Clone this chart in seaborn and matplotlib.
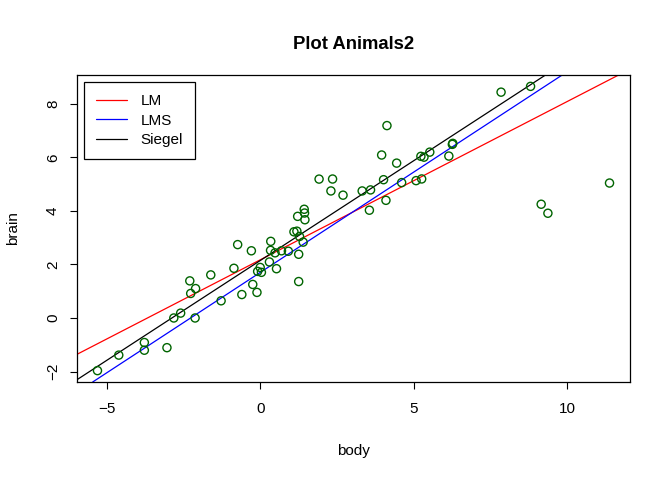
import numpy as np
import pandas as pd
import matplotlib
matplotlib.use("Agg")
import matplotlib.pyplot as plt
import seaborn as sns

# Animals2 (robustbase): body weight (kg) and brain weight (g), plotted on log scale
animals = ["Arctic fox", "Owl monkey", "Mountain beaver", "Cow", "Grey wolf", "Goat",
           "Roe deer", "Guinea pig", "Verbet", "Chinchilla", "Ground squirrel",
           "Arctic ground squirrel", "African giant pouched rat", "Lesser short-tailed shrew",
           "Star-nosed mole", "Nine-banded armadillo", "Tree hyrax", "N.A. opossum",
           "Asian elephant", "Big brown bat", "Donkey", "Horse", "European hedgehog",
           "Patas monkey", "Cat", "Galago", "Genet", "Giraffe", "Gorilla", "Grey seal",
           "Rock hyrax-a", "Human", "African elephant", "Water opossum", "Rhesus monkey",
           "Kangaroo", "Yellow-bellied marmot", "Golden hamster", "Mouse", "Little brown bat",
           "Slow loris", "Okapi", "Rabbit", "Sheep", "Jaguar", "Chimpanzee", "Baboon",
           "Desert hedgehog", "Giant armadillo", "Rock hyrax-b", "Raccoon", "Rat",
           "E. American mole", "Mole rat", "Musk shrew", "Pig", "Echidna", "Brazilian tapir",
           "Tenrec", "Phalanger", "Tree shrew", "Red fox", "Brachiosaurus", "Dipliodocus",
           "Triceratops"]
body = [3.385, 0.48, 1.35, 465, 36.33, 27.66, 14.83, 1.04, 4.19, 0.425, 0.101, 0.92, 1.0,
        0.005, 0.06, 3.5, 2.0, 1.7, 2547, 0.023, 187.1, 521, 0.785, 10, 3.3, 0.2, 1.41,
        529, 207, 85, 0.75, 62, 6654, 3.5, 6.8, 35, 4.05, 0.12, 0.023, 0.01, 1.4, 250,
        2.5, 55.5, 100, 52.16, 10.55, 0.55, 60, 3.6, 4.288, 0.28, 0.075, 0.122, 0.048,
        192, 3.0, 160, 0.9, 1.62, 0.104, 4.235, 87000, 11700, 9400]
brain = [44.5, 15.5, 8.1, 423, 119.5, 115, 98.2, 5.5, 58, 6.4, 4.0, 5.7, 6.6, 0.14, 1.0,
         10.8, 12.3, 6.3, 4603, 0.3, 419, 655, 3.5, 115, 25.6, 5.0, 17.5, 680, 406, 325,
         12.3, 1320, 5712, 3.9, 179, 56, 17, 1.0, 0.4, 0.25, 12.5, 490, 12.1, 175, 157,
         440, 179.5, 2.4, 81, 21, 39.2, 1.9, 1.2, 3.0, 0.33, 180, 25, 169, 2.6, 11.4, 2.5,
         50.4, 154.5, 50, 70]

# robust fit coefficients (intercept, slope)
lms_coef = [1.70, 0.750]
siegel_coef = [2.145, 0.746]

line_labels = ["LM", "LMS", "Siegel"]
line_colors = ["red", "blue", "black"]

df = pd.DataFrame({"body": np.log(body), "brain": np.log(brain)})

sns.set_style("white")
plt.rcParams["font.family"] = ["Liberation Sans", "DejaVu Sans"]
plt.rcParams["text.color"] = "black"
plt.rcParams["axes.labelcolor"] = "black"
plt.rcParams["xtick.color"] = "black"
plt.rcParams["ytick.color"] = "black"

fig = plt.figure(figsize=(6.72, 4.8), dpi=100)
ax = fig.add_axes([77 / 672, 1 - 382 / 480, (630 - 77) / 672, (382 - 75) / 480])

sns.scatterplot(data=df, x="body", y="brain", ax=ax, marker="o", s=34,
                facecolors="none", edgecolor="#006400", linewidth=1.0, zorder=3)

lm_slope, lm_int = np.polyfit(df["body"], df["brain"], 1)
coefs = [(lm_int, lm_slope), tuple(lms_coef), tuple(siegel_coef)]
for (a, b), lab, col in zip(coefs, line_labels, line_colors):
    ax.axline((0, a), slope=b, color=col, lw=0.9, label=lab, zorder=2)

xr = df["body"].max() - df["body"].min()
yr = df["brain"].max() - df["brain"].min()
ax.set_xlim(df["body"].min() - 0.04 * xr, df["body"].max() + 0.04 * xr)
ax.set_ylim(df["brain"].min() - 0.04 * yr, df["brain"].max() + 0.04 * yr)

ax.set_xticks([-5, 0, 5, 10])
ax.set_yticks([-2, 0, 2, 4, 6, 8])
ax.tick_params(axis="both", direction="out", length=5.2, width=0.8, color="black",
               labelsize=11, bottom=True, left=True, labelcolor="black")
ax.tick_params(axis="x", pad=9)
ax.tick_params(axis="y", pad=7)
for lbl in ax.get_yticklabels():
    lbl.set_rotation(90)
    lbl.set_va("center")
for sp in ax.spines.values():
    sp.set_color("black")
    sp.set_linewidth(0.9)

ax.set_xlabel("body", fontsize=11, color="black")
ax.set_ylabel("brain", fontsize=11, color="black")
ax.xaxis.set_label_coords(0.5, -(451 - 382) / 307)
ax.xaxis.label.set_va("center")
ax.yaxis.set_label_coords(-(77 - 13) / 553, 0.5)
ax.yaxis.label.set_va("center")
ax.set_title("Plot Animals2", fontsize=13.3, fontweight="bold", pad=19, color="black")

leg = ax.legend(loc="upper left", bbox_to_anchor=(7 / 553, 1 - 7 / 307), frameon=True,
                fancybox=False, edgecolor="black", framealpha=1, fontsize=11,
                handlelength=2.0, handletextpad=0.9, borderpad=0.8, labelspacing=0.36,
                borderaxespad=0)
leg.get_frame().set_linewidth(0.9)

fig.savefig("out.png", dpi=100)
